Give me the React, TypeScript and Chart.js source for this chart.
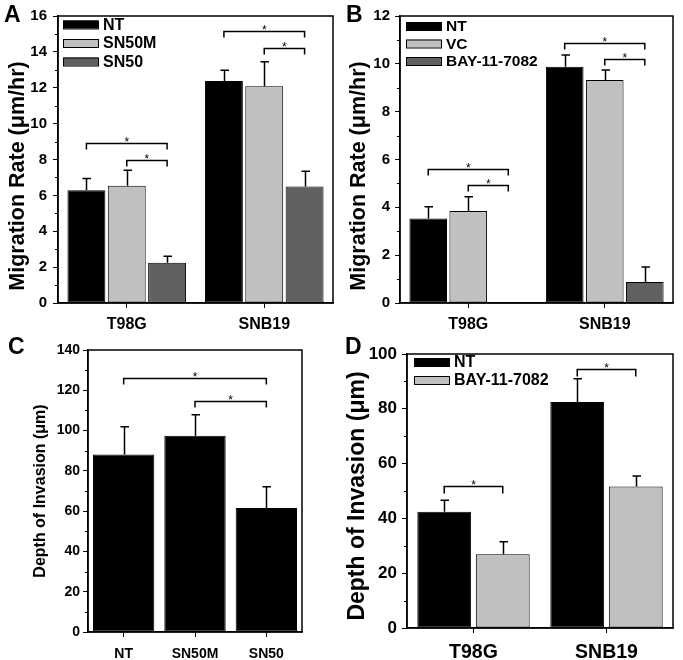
import React, { useEffect, useRef } from "react";
import { Chart, registerables } from "chart.js";

Chart.register(...registerables);

const FONT = "'Liberation Sans', Arial, sans-serif";

// ---------- Panel A data ----------
const catsA = ["T98G", "SNB19"];
const namesA = ["NT", "SN50M", "SN50"];
const aNT = [6.28, 12.38];
const aNTErr = [0.66, 0.6];
const aSN50M = [6.53, 12.08];
const aSN50MErr = [0.87, 1.37];
const aSN50 = [2.25, 6.5];
const aSN50Err = [0.35, 0.84];
// [datasetFrom, categoryFrom, datasetTo, categoryTo, yValue]
const sigA = [
  [0, 0, 2, 0, 8.93],
  [1, 0, 2, 0, 8.0],
  [0, 1, 2, 1, 15.16],
  [1, 1, 2, 1, 14.23],
];

// ---------- Panel B data ----------
const catsB = ["T98G", "SNB19"];
const namesB = ["NT", "VC", "BAY-11-7082"];
const bNT = [3.53, 9.88];
const bNTErr = [0.49, 0.49];
const bVC = [3.85, 9.32];
const bVCErr = [0.59, 0.42];
const bBAY = [null, 0.88];
const bBAYErr = [null, 0.63];
const sigB = [
  [0, 0, 2, 0, 5.6],
  [1, 0, 2, 0, 4.93],
  [0, 1, 2, 1, 10.88],
  [1, 1, 2, 1, 10.2],
];

// ---------- Panel C data ----------
const catsC = ["NT", "SN50M", "SN50"];
const cDepth = [88.1, 97.4, 61.5];
const cDepthErr = [13.8, 10.5, 10.6];
const sigC = [
  [0, 0, 0, 2, 126.2],
  [0, 1, 0, 2, 114.8],
];

// ---------- Panel D data ----------
const catsD = ["T98G", "SNB19"];
const namesD = ["NT", "BAY-11-7082"];
const dNT = [42.4, 82.5];
const dNTErr = [4.2, 8.5];
const dBAY = [26.9, 51.6];
const dBAYErr = [4.6, 3.9];
const sigD = [
  [0, 0, 1, 0, 52.0],
  [0, 1, 1, 1, 94.6],
];

const BLACK = "#000000";
const LIGHT = "#c0c0c0";
const DARK = "#606060";

type Series = { name: string; values: (number | null)[]; errors: (number | null)[]; color: string };

type PanelCfg = {
  letter: string;
  letterX: number;
  letterY: number;
  letterSize: number;
  x0: number;
  y0: number;
  w: number;
  h: number;
  left: number;
  right: number;
  top: number;
  bottom: number;
  labels: string[];
  series: Series[];
  yMax: number;
  yStep: number;
  yMinor: number;
  yTitle: string;
  yTitleSize: number;
  yTitleX: number;
  yTitleY: number;
  yTickSize: number;
  yTickPad: number;
  xTickSize: number;
  xTickPad: number;
  barPct: number;
  catPct: number;
  sig: number[][];
  sigDrop: number;
  legend: boolean;
  legendDX: number;
  legendDY: number;
  legendRow: number;
  legendSize: number;
};

function buildConfig(cfg: PanelCfg): any {
  const decor = {
    id: "decor",
    afterDatasetsDraw(chart: any) {
      const ctx = chart.ctx as CanvasRenderingContext2D;
      const ys = chart.scales.y;
      const ca = chart.chartArea;
      ctx.save();
      ctx.strokeStyle = "#000";
      ctx.fillStyle = "#000";
      // error bars
      cfg.series.forEach((s, di) => {
        const meta = chart.getDatasetMeta(di);
        s.values.forEach((v, i) => {
          if (v == null) return;
          const e = s.errors[i] || 0;
          const bar = meta.data[i];
          const px = Math.round(bar.x) + 0.5;
          const top = ys.getPixelForValue(v);
          const et = ys.getPixelForValue(v + e);
          ctx.lineWidth = 1.5;
          ctx.beginPath();
          ctx.moveTo(px, top);
          ctx.lineTo(px, et);
          ctx.moveTo(px - 4, et);
          ctx.lineTo(px + 4.5, et);
          ctx.stroke();
        });
      });
      // frame
      ctx.lineWidth = 1.5;
      ctx.strokeRect(ca.left, ca.top, ca.right - ca.left, ca.bottom - ca.top);
      // minor ticks
      ctx.lineWidth = 1;
      for (let v = 0; v <= cfg.yMax + 1e-9; v += cfg.yMinor) {
        const r = v / cfg.yStep;
        if (Math.abs(r - Math.round(r)) < 1e-6) continue;
        const py = Math.round(ys.getPixelForValue(v)) + 0.5;
        ctx.beginPath();
        ctx.moveTo(ca.left - 3, py);
        ctx.lineTo(ca.left, py);
        ctx.stroke();
      }
      // significance brackets
      cfg.sig.forEach(([d1, c1, d2, c2, yv]) => {
        const xa = chart.getDatasetMeta(d1).data[c1].x;
        const xb = chart.getDatasetMeta(d2).data[c2].x;
        const py = Math.round(ys.getPixelForValue(yv)) + 0.5;
        ctx.lineWidth = 1.5;
        ctx.beginPath();
        ctx.moveTo(xa, py + cfg.sigDrop);
        ctx.lineTo(xa, py);
        ctx.lineTo(xb, py);
        ctx.lineTo(xb, py + cfg.sigDrop);
        ctx.stroke();
        ctx.font = `12px ${FONT}`;
        ctx.textAlign = "center";
        ctx.textBaseline = "alphabetic";
        ctx.fillText("*", (xa + xb) / 2, py + 2);
      });
      // legend
      if (cfg.legend) {
        cfg.series.forEach((s, i) => {
          const lx = ca.left + cfg.legendDX;
          const cy = ca.top + cfg.legendDY + i * cfg.legendRow;
          ctx.fillStyle = s.color;
          ctx.fillRect(lx, cy - 4, 35, 8);
          ctx.lineWidth = 1;
          ctx.strokeStyle = "#000";
          ctx.strokeRect(lx + 0.5, cy - 3.5, 35, 8);
          ctx.fillStyle = "#000";
          ctx.font = `bold ${cfg.legendSize}px ${FONT}`;
          ctx.textAlign = "left";
          ctx.textBaseline = "middle";
          ctx.fillText(s.name, lx + 40, cy + 1);
        });
      }
      // y axis title
      ctx.save();
      ctx.translate(cfg.yTitleX - cfg.x0, cfg.yTitleY - cfg.y0);
      ctx.rotate(-Math.PI / 2);
      ctx.fillStyle = "#000";
      ctx.font = `bold ${cfg.yTitleSize}px ${FONT}`;
      ctx.textAlign = "center";
      ctx.textBaseline = "middle";
      ctx.fillText(cfg.yTitle, 0, 0);
      ctx.restore();
      // panel letter
      ctx.fillStyle = "#000";
      ctx.font = `bold ${cfg.letterSize}px ${FONT}`;
      ctx.textAlign = "left";
      ctx.textBaseline = "alphabetic";
      ctx.fillText(cfg.letter, cfg.letterX - cfg.x0, cfg.letterY - cfg.y0);
      ctx.restore();
    },
  };

  return {
    type: "bar",
    data: {
      labels: cfg.labels,
      datasets: cfg.series.map((s) => ({
        label: s.name,
        data: s.values,
        backgroundColor: s.color,
        borderColor: "#000",
        borderWidth: 1,
        borderSkipped: false,
        barPercentage: cfg.barPct,
        categoryPercentage: cfg.catPct,
      })),
    },
    options: {
      responsive: false,
      animation: false,
      events: [],
      layout: {
        padding: {
          left: 0,
          top: cfg.top - cfg.y0,
          right: cfg.x0 + cfg.w - cfg.right,
          bottom: 0,
        },
      },
      plugins: { legend: { display: false }, tooltip: { enabled: false } },
      scales: {
        x: {
          type: "category",
          offset: true,
          grid: {
            display: true,
            drawOnChartArea: false,
            drawTicks: true,
            tickLength: 5,
            color: "#000",
            lineWidth: 1,
            offset: false,
          },
          border: { display: true, color: "#000", width: 1.5 },
          ticks: {
            color: "#000",
            font: { family: FONT, size: cfg.xTickSize, weight: "bold" },
            padding: cfg.xTickPad,
            maxRotation: 0,
          },
          afterFit: (s: any) => {
            s.height = cfg.y0 + cfg.h - cfg.bottom;
          },
        },
        y: {
          min: 0,
          max: cfg.yMax,
          grid: {
            display: true,
            drawOnChartArea: false,
            drawTicks: true,
            tickLength: 5,
            color: "#000",
            lineWidth: 1,
          },
          border: { display: true, color: "#000", width: 1.5 },
          ticks: {
            stepSize: cfg.yStep,
            color: "#000",
            font: { family: FONT, size: cfg.yTickSize, weight: "bold" },
            padding: cfg.yTickPad,
          },
          title: { display: false },
          afterFit: (s: any) => {
            s.width = cfg.left - cfg.x0;
          },
        },
      },
    },
    plugins: [decor],
  };
}

function Panel({ cfg }: { cfg: PanelCfg }) {
  const ref = useRef<HTMLCanvasElement>(null);
  useEffect(() => {
    const chart = new Chart(ref.current as HTMLCanvasElement, buildConfig(cfg));
    return () => chart.destroy();
  }, []);
  return (
    <canvas
      ref={ref}
      width={cfg.w}
      height={cfg.h}
      style={{ position: "absolute", left: cfg.x0, top: cfg.y0, width: cfg.w, height: cfg.h }}
    />
  );
}

const panelA: PanelCfg = {
  letter: "A", letterX: 4, letterY: 22, letterSize: 23,
  x0: 0, y0: 0, w: 341, h: 330,
  left: 58, right: 333, top: 16, bottom: 303,
  labels: catsA,
  series: [
    { name: namesA[0], values: aNT, errors: aNTErr, color: BLACK },
    { name: namesA[1], values: aSN50M, errors: aSN50MErr, color: LIGHT },
    { name: namesA[2], values: aSN50, errors: aSN50Err, color: DARK },
  ],
  yMax: 16, yStep: 2, yMinor: 1,
  yTitle: "Migration Rate (\u03BCm/hr)", yTitleSize: 21.5, yTitleX: 18, yTitleY: 176,
  yTickSize: 15, yTickPad: 6, xTickSize: 16, xTickPad: 7,
  barPct: 0.94, catPct: 0.88,
  sig: sigA, sigDrop: 6,
  legend: true, legendDX: 5, legendDY: 8.5, legendRow: 18.5, legendSize: 16,
};

const panelB: PanelCfg = {
  letter: "B", letterX: 346, letterY: 22, letterSize: 23,
  x0: 341, y0: 0, w: 342, h: 330,
  left: 400, right: 673, top: 16, bottom: 303,
  labels: catsB,
  series: [
    { name: namesB[0], values: bNT, errors: bNTErr, color: BLACK },
    { name: namesB[1], values: bVC, errors: bVCErr, color: LIGHT },
    { name: namesB[2], values: bBAY, errors: bBAYErr, color: DARK },
  ],
  yMax: 12, yStep: 2, yMinor: 1,
  yTitle: "Migration Rate (\u03BCm/hr)", yTitleSize: 21.5, yTitleX: 359, yTitleY: 176,
  yTickSize: 15, yTickPad: 5, xTickSize: 16, xTickPad: 7,
  barPct: 0.94, catPct: 0.88,
  sig: sigB, sigDrop: 6,
  legend: true, legendDX: 6, legendDY: 10, legendRow: 17.5, legendSize: 15.5,
};

const panelC: PanelCfg = {
  letter: "C", letterX: 8, letterY: 354, letterSize: 23,
  x0: 0, y0: 330, w: 341, h: 330,
  left: 88, right: 302, top: 350, bottom: 632,
  labels: catsC,
  series: [{ name: "Depth", values: cDepth, errors: cDepthErr, color: BLACK }],
  yMax: 140, yStep: 20, yMinor: 10,
  yTitle: "Depth of Invasion (\u03BCm)", yTitleSize: 16, yTitleX: 41, yTitleY: 491,
  yTickSize: 14, yTickPad: 3, xTickSize: 14, xTickPad: 9,
  barPct: 0.86, catPct: 1.0,
  sig: sigC, sigDrop: 6,
  legend: false, legendDX: 0, legendDY: 0, legendRow: 0, legendSize: 14,
};

const panelD: PanelCfg = {
  letter: "D", letterX: 345, letterY: 354, letterSize: 23,
  x0: 341, y0: 330, w: 342, h: 330,
  left: 407, right: 673, top: 354, bottom: 628,
  labels: catsD,
  series: [
    { name: namesD[0], values: dNT, errors: dNTErr, color: BLACK },
    { name: namesD[1], values: dBAY, errors: dBAYErr, color: LIGHT },
  ],
  yMax: 100, yStep: 20, yMinor: 10,
  yTitle: "Depth of Invasion (\u03BCm)", yTitleSize: 23, yTitleX: 358, yTitleY: 496,
  yTickSize: 17, yTickPad: 5, xTickSize: 19.5, xTickPad: 8,
  barPct: 0.92, catPct: 0.88,
  sig: sigD, sigDrop: 7,
  legend: true, legendDX: 7, legendDY: 8, legendRow: 18, legendSize: 16,
};

export default function App() {
  return (
    <div style={{ position: "absolute", left: 0, top: 0, width: 683, height: 660, background: "#fff" }}>
      <Panel cfg={panelA} />
      <Panel cfg={panelB} />
      <Panel cfg={panelC} />
      <Panel cfg={panelD} />
    </div>
  );
}
